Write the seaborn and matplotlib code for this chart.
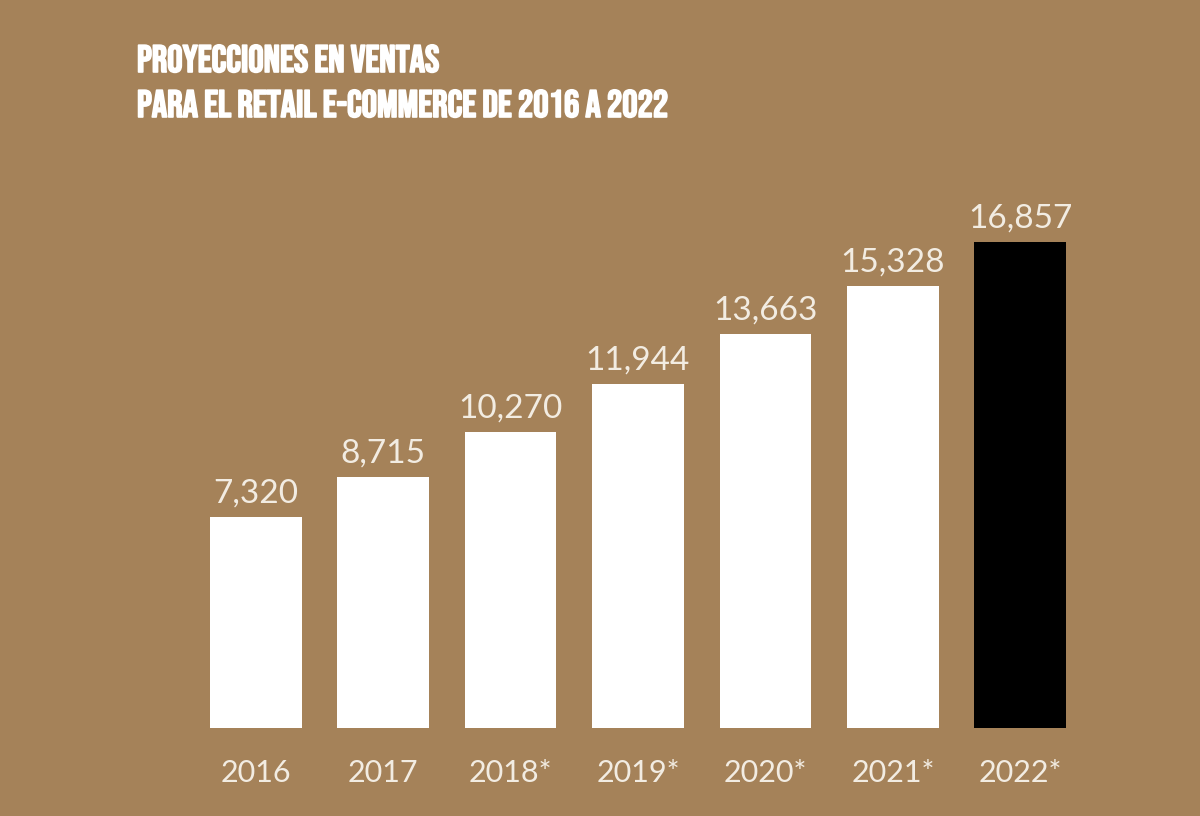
import matplotlib
matplotlib.use("Agg")
import matplotlib.pyplot as plt
import matplotlib.patheffects as pe
import seaborn as sns
import pandas as pd

years = ["2016", "2017", "2018*", "2019*", "2020*", "2021*", "2022*"]
sales = [7320, 8715, 10270, 11944, 13663, 15328, 16857]
labels = ["7,320", "8,715", "10,270", "11,944", "13,663", "15,328", "16,857"]
title_lines = ["PROYECCIONES EN VENTAS", "PARA EL RETAIL E-COMMERCE DE 2016 A 2022"]

BG = "#A58259"
TXT = "#F2ECE2"
bar_colors = ["#FFFFFF"] * 6 + ["#000000"]

sns.set_theme(style="white")
plt.rcParams["font.family"] = ["Lato", "DejaVu Sans"]

df = pd.DataFrame({"year": years, "sales": sales})

fig = plt.figure(figsize=(12, 8.16), dpi=100, facecolor=BG)
ax = fig.add_axes([192 / 1200, 0.1078, 892 / 1200, 0.7066])
ax.set_facecolor(BG)

sns.barplot(data=df, x="year", y="sales", hue="year", palette=bar_colors,
            width=0.72, saturation=1, legend=False, ax=ax, edgecolor="none")

ax.set_xlim(-0.5, 6.5)
ax.set_ylim(0, 20000)
for s in ax.spines.values():
    s.set_visible(False)
ax.set_yticks([])
ax.set_xlabel("")
ax.set_ylabel("")
ax.tick_params(axis="x", length=0, pad=22, labelsize=22, labelcolor=TXT)
for t in ax.get_xticklabels():
    t.set_fontweight("normal")

for i, (v, lab) in enumerate(zip(sales, labels)):
    ax.annotate(lab, (i, v), xytext=(0, 6), textcoords="offset points",
                ha="center", va="bottom", fontsize=24, color=TXT,
                fontweight="normal")

for line, base in zip(title_lines, [72, 117]):
    fig.text(137 / 1200, 1 - base / 816, line,
             ha="left", va="baseline", fontsize=27.6, color="white",
             family=["Bebas Neue", "DejaVu Sans"],
             path_effects=[pe.withStroke(linewidth=1.2, foreground="white")])

fig.savefig("out.png", dpi=100, facecolor=BG)
